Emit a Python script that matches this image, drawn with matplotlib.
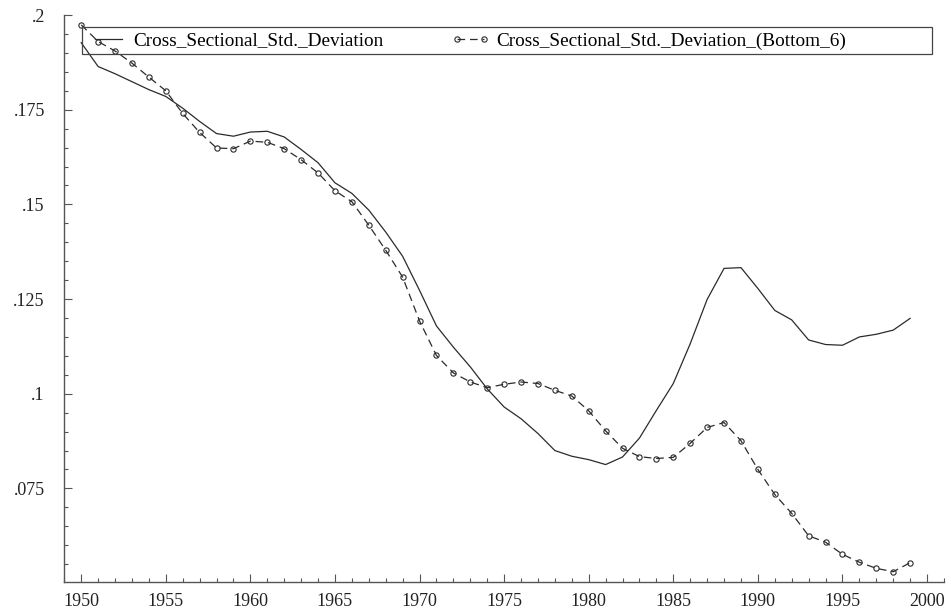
import matplotlib
matplotlib.use("Agg")
import matplotlib.pyplot as plt
from matplotlib.ticker import MultipleLocator, FuncFormatter
from matplotlib.patches import Rectangle

years = list(range(1950, 2000))

std_dev = [
    0.1927, 0.1864, 0.1845, 0.1824, 0.1803, 0.1785, 0.1754, 0.1719, 0.1687, 0.1680,
    0.1691, 0.1693, 0.1678, 0.1645, 0.1610, 0.1557, 0.1529, 0.1485, 0.1427, 0.1363,
    0.1273, 0.1179, 0.1123, 0.1071, 0.1013, 0.0965, 0.0934, 0.0895, 0.0850, 0.0835,
    0.0826, 0.0813, 0.0833, 0.0883, 0.0956, 0.1027, 0.1132, 0.1249, 0.1331, 0.1333,
    0.1278, 0.1220, 0.1195, 0.1142, 0.1130, 0.1128, 0.1150, 0.1157, 0.1168, 0.1199,
]

std_dev_bottom6 = [
    0.1974, 0.1930, 0.1905, 0.1873, 0.1836, 0.1800, 0.1740, 0.1690, 0.1649, 0.1647,
    0.1667, 0.1664, 0.1647, 0.1618, 0.1583, 0.1536, 0.1507, 0.1445, 0.1379, 0.1308,
    0.1192, 0.1101, 0.1055, 0.1031, 0.1016, 0.1025, 0.1031, 0.1027, 0.1009, 0.0994,
    0.0955, 0.0902, 0.0856, 0.0834, 0.0829, 0.0832, 0.0869, 0.0911, 0.0924, 0.0876,
    0.0800, 0.0734, 0.0684, 0.0625, 0.0608, 0.0576, 0.0555, 0.0539, 0.0530, 0.0554,
]

labels = ["Cross_Sectional_Std._Deviation", "Cross_Sectional_Std._Deviation_(Bottom_6)"]

plt.rcParams["font.family"] = ["Liberation Serif", "DejaVu Serif"]
plt.rcParams["lines.scale_dashes"] = False

fig = plt.figure(figsize=(9.51, 6.13), dpi=100)
ax = fig.add_axes([0.0676, 0.050, 0.925, 0.9255])

ink = "#2b2b2b"
ax.plot(years, std_dev, color=ink, lw=0.9, label=labels[0])
ax.plot(years, std_dev_bottom6, color=ink, lw=0.9, dashes=(5.5, 3.5),
        marker="o", ms=3.8, mfc="none", mec=ink, mew=0.8, label=labels[1])

ax.set_xlim(1949, 2001)
ax.set_ylim(0.0502, 0.2)
ax.xaxis.set_major_locator(MultipleLocator(5))
ax.xaxis.set_minor_locator(MultipleLocator(1))
ax.yaxis.set_major_locator(MultipleLocator(0.025))
ax.yaxis.set_minor_locator(MultipleLocator(0.005))

def strip_zero(v, pos):
    s = ("%.3f" % v).rstrip("0").rstrip(".")
    return s[1:] if s.startswith("0") else s

ax.yaxis.set_major_formatter(FuncFormatter(strip_zero))

for side in ("top", "right"):
    ax.spines[side].set_visible(False)
for side in ("left", "bottom"):
    ax.spines[side].set_color("#555555")
    ax.spines[side].set_linewidth(1.0)

ax.tick_params(which="both", direction="in", colors="#555555", labelcolor="#222222")
ax.tick_params(axis="x", which="major", length=5.8, width=0.8, pad=8, labelsize=13)
ax.tick_params(axis="x", which="minor", length=2.9, width=0.8)
ax.tick_params(axis="y", which="major", length=5.5, width=0.8, pad=14, labelsize=13)
ax.tick_params(axis="y", which="minor", length=2.9, width=0.8)

# legend box spanning the plot top
ax.add_patch(Rectangle((0.0198, 0.9307), 0.9662, 0.0487, transform=ax.transAxes,
                       fill=False, edgecolor="#444444", lw=0.9, clip_on=False, zorder=5))
ax.legend(loc="center left", bbox_to_anchor=(0.0215, 0.9545), ncol=2, frameon=False,
          fontsize=13.9, handlelength=2.0, handletextpad=0.31, columnspacing=3.5,
          borderaxespad=0, borderpad=0.3, numpoints=2)

fig.savefig("out.png", dpi=100)
